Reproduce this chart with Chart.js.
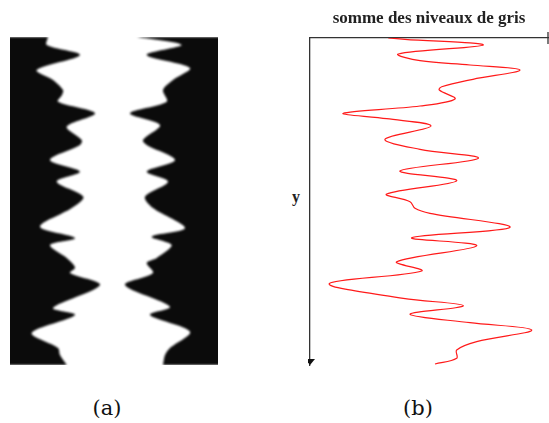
<!DOCTYPE html>
<html lang="fr">
<head>
<meta charset="UTF-8">
<title>Profil des niveaux de gris</title>
<script src="https://cdn.jsdelivr.net/npm/chart.js@4.4.1/dist/chart.umd.min.js"></script>
<style>
    body { margin: 0; width: 549px; height: 423px; background: #fff; position: relative; overflow: hidden; }
    .box { position: absolute; }
    #imgBox { left: 10px; top: 37px; width: 208px; height: 328px; }
    #curveBox { left: 308px; top: 0px; width: 242px; height: 370px; }
    .lbl { position: absolute; font-family: "DejaVu Serif", serif; font-size: 21px; color: #111; transform: translateX(-50%); }
    #ylbl { position: absolute; left: 292px; top: 188px; font-family: "Liberation Serif", serif; font-weight: bold; font-size: 16px; color: #222; }
</style>
</head>
<body>
<div id="imgBox" class="box"><canvas id="imgChart"></canvas></div>
<div id="curveBox" class="box"><canvas id="curveChart"></canvas></div>
<div id="ylbl">y</div>
<div class="lbl" style="left:107px; top:396px;">(a)</div>
<div class="lbl" style="left:418px; top:396px;">(b)</div>

<script>
    // (a) edges of the white band, image column vs image row
    const leftRows = [0, 8, 18, 33, 43, 53, 58, 64.7, 76.3, 89.7, 103, 108, 123, 134.7, 144.7, 159.7, 171, 189.7, 201, 208, 221, 226, 231, 236, 248, 271, 278, 296, 311, 318, 328];
    const leftCols = [38, 36.7, 70, 26.7, 43, 53, 52, 48, 85, 56.7, 71.7, 70, 40, 70, 46.7, 73.3, 61.7, 30, 65, 40, 56.7, 62, 65, 60, 90, 43, 65, 21.7, 48, 50, 56.7];
    const rightRows = [0, 8, 18, 31, 43, 53, 64.7, 76.3, 88, 103, 108, 123, 134.7, 144.7, 159.7, 171, 191, 199.7, 208, 221, 226, 236, 248, 269.7, 278, 294.7, 311, 318, 328];
    const rightCols = [127, 171.7, 136.7, 180, 163, 153, 156.7, 120, 150, 133, 136.7, 165, 136.7, 158, 135, 143, 175, 141.7, 161.7, 146.7, 136.7, 143, 115, 160, 140, 180, 160, 155, 153];

    // (b) sum of gray levels per row
    const rows = [0, 1.3, 7, 16, 22.7, 27, 32, 41.3, 48.7, 52, 61, 68, 75.3, 80.7, 88, 101.3, 111.3, 120.3, 133, 142.7, 156, 163.7, 170.3, 175.3, 189.3, 199.7, 207.7, 223.7, 233, 245.7, 260.3, 267.7, 276.3, 284.7, 292, 303.7, 312, 320.3, 326];
    const sums = [78.3, 95, 173.3, 88.3, 110, 160, 210, 163, 131.7, 129.3, 145, 110, 33.3, 76.7, 121, 75, 110, 168.3, 90, 146.7, 76.7, 100, 105, 120, 200, 101.7, 166.7, 86.7, 111.7, 19.3, 93.3, 153.3, 100, 160, 221.7, 166.7, 146.7, 146.7, 125];

    const toPts = (xs, ys) => xs.map((v, i) => ({ x: v, y: ys[i] }));

    const softEdge = {
        id: 'softEdge',
        beforeDatasetsDraw(chart) { chart.ctx.filter = 'blur(1px)'; },
        afterDatasetsDraw(chart) { chart.ctx.filter = 'none'; }
    };

    new Chart(document.getElementById('imgChart'), {
        type: 'line',
        data: {
            datasets: [
                { data: toPts(leftCols, leftRows), fill: { value: -5 }, backgroundColor: '#0b0b0b', borderColor: '#0b0b0b', borderWidth: 0, pointRadius: 0, tension: 0.3 },
                { data: toPts(rightCols, rightRows), fill: { value: 215 }, backgroundColor: '#0b0b0b', borderColor: '#0b0b0b', borderWidth: 0, pointRadius: 0, tension: 0.3 }
            ]
        },
        options: {
            indexAxis: 'y',
            responsive: true,
            maintainAspectRatio: false,
            animation: false,
            layout: { padding: 0 },
            plugins: { legend: { display: false }, tooltip: { enabled: false } },
            scales: {
                x: { type: 'linear', min: 0, max: 208, display: false },
                y: { type: 'linear', min: 0, max: 328, reverse: true, display: false }
            }
        },
        plugins: [softEdge]
    });

    const axisMarks = {
        id: 'axisMarks',
        afterDraw(chart) {
            const { ctx, chartArea: a } = chart;
            ctx.save();
            ctx.fillStyle = '#111';
            ctx.beginPath();
            ctx.moveTo(a.left - 5, a.bottom - 6);
            ctx.lineTo(a.left + 5, a.bottom - 6);
            ctx.lineTo(a.left, a.bottom);
            ctx.closePath();
            ctx.fill();
            ctx.strokeStyle = '#333';
            ctx.lineWidth = 1.3;
            ctx.beginPath();
            ctx.moveTo(a.right, a.top - 6);
            ctx.lineTo(a.right, a.top + 6);
            ctx.stroke();
            ctx.restore();
        }
    };

    new Chart(document.getElementById('curveChart'), {
        type: 'line',
        data: {
            datasets: [{
                data: toPts(sums, rows),
                borderColor: '#ff1a1a',
                borderWidth: 1.2,
                pointRadius: 0,
                fill: false,
                tension: 0.35
            }]
        },
        options: {
            indexAxis: 'y',
            responsive: true,
            maintainAspectRatio: false,
            animation: false,
            layout: { padding: { left: 2, right: 2, top: 0, bottom: 5 } },
            plugins: {
                legend: { display: false },
                tooltip: { enabled: false },
                title: {
                    display: true,
                    text: 'somme des niveaux de gris',
                    color: '#222',
                    font: { family: 'Liberation Serif', size: 17, weight: 'bold', lineHeight: 1.2 },
                    padding: { top: 8, bottom: 9.6 }
                }
            },
            scales: {
                x: {
                    type: 'linear', position: 'top', min: 0, max: 238,
                    grid: { display: false, drawTicks: false },
                    ticks: { display: false },
                    border: { display: true, color: '#333', width: 1.3 }
                },
                y: {
                    type: 'linear', reverse: true, min: 0, max: 327,
                    grid: { display: false, drawTicks: false },
                    ticks: { display: false },
                    border: { display: true, color: '#333', width: 1.3 }
                }
            }
        },
        plugins: [axisMarks]
    });
</script>
</body>
</html>
